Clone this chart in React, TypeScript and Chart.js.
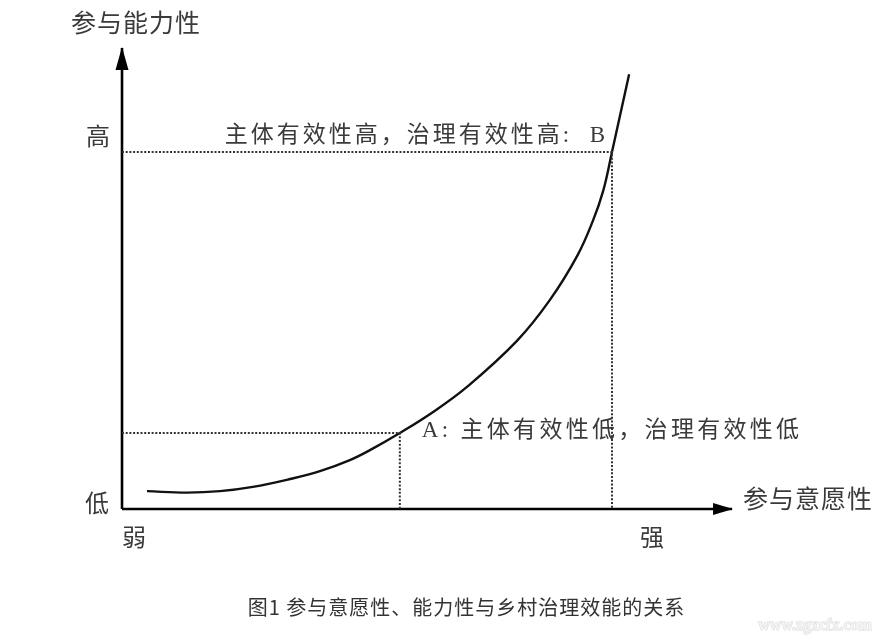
import React, { useEffect, useRef } from "react";
import { Chart, registerables } from "chart.js";

Chart.register(...registerables);

// ---- data (conceptual units: origin of the axes = 0,0; point B = 10,10) ----
const curveX = [0.51, 1.33, 2.0, 2.67, 3.43, 4.04, 4.65, 5.06, 5.67, 6.35, 7.04, 8.06, 8.73, 9.29, 9.61, 9.82, 10.0, 10.35];
const curveY = [0.5, 0.46, 0.5, 0.62, 0.84, 1.06, 1.37, 1.65, 2.13, 2.72, 3.42, 4.71, 5.85, 7.09, 8.07, 8.91, 10.0, 12.18];
const pointA = { x: 5.67, y: 2.13 };
const pointB = { x: 10.0, y: 10.0 };
const xAxisEnd = 12.45;
const yAxisEnd = 12.91;
const xRange = [-2.49, 15.735];
const yRange = [-3.557, 14.258];

const yAxisTitle = "参与能力性";
const xAxisTitle = "参与意愿性";
const yTickLabels = ["低", "高"];
const xTickLabels = ["弱", "强"];
const labelA = "A: 主体有效性低，治理有效性低";
const labelB = "主体有效性高，治理有效性高:  B";
const caption = "图1 参与意愿性、能力性与乡村治理效能的关系";
const watermark = "www.zgxcfx.com";

const SERIF = '"Liberation Serif", "Noto Sans CJK SC"';
const SANS = '"Noto Sans CJK SC", "Noto Sans", sans-serif';

const annotate = {
  id: "annotate",
  afterDatasetsDraw(chart: any) {
    const ctx = chart.ctx as CanvasRenderingContext2D;
    const xs = chart.scales.x;
    const ys = chart.scales.y;
    const ox = xs.getPixelForValue(0);
    const oy = ys.getPixelForValue(0);
    const xTip = xs.getPixelForValue(xAxisEnd);
    const yTip = ys.getPixelForValue(yAxisEnd);
    const ax = xs.getPixelForValue(pointA.x);
    const ay = ys.getPixelForValue(pointA.y);
    const bx = xs.getPixelForValue(pointB.x);
    const by = ys.getPixelForValue(pointB.y);
    ctx.save();
    // arrowheads
    ctx.fillStyle = "#000";
    ctx.beginPath();
    ctx.moveTo(ox, yTip - 1);
    ctx.lineTo(ox - 6.5, yTip + 22);
    ctx.lineTo(ox + 6.5, yTip + 22);
    ctx.closePath();
    ctx.fill();
    ctx.beginPath();
    ctx.moveTo(xTip + 1, oy);
    ctx.lineTo(xTip - 19, oy - 6);
    ctx.lineTo(xTip - 19, oy + 6);
    ctx.closePath();
    ctx.fill();

    const setLS = (v: string) => {
      (ctx as any).letterSpacing = v;
    };
    ctx.textBaseline = "middle";
    ctx.fillStyle = "#3a3a3a";

    // axis titles
    setLS("1px");
    ctx.font = `25px ${SANS}`;
    ctx.textAlign = "center";
    ctx.fillText(yAxisTitle, ox + 14, yTip - 26);
    ctx.textAlign = "left";
    ctx.fillText(xAxisTitle, xTip + 11, oy - 11);

    // tick-like labels
    setLS("0px");
    ctx.font = `24px ${SANS}`;
    ctx.textAlign = "center";
    ctx.fillText(yTickLabels[0], ox - 25, oy - 6);
    ctx.fillText(yTickLabels[1], ox - 24, by - 16);
    ctx.fillText(xTickLabels[0], ox + 12, oy + 28);
    ctx.fillText(xTickLabels[1], bx + 40, oy + 28);

    // point labels
    ctx.font = `23px ${SERIF}`;
    setLS("3px");
    ctx.textAlign = "right";
    ctx.fillText(labelB, bx - 4, by - 16);
    setLS("3.3px");
    ctx.textAlign = "left";
    ctx.fillText(labelA, ax + 22, ay - 2);

    // caption
    setLS("1px");
    ctx.font = `20px ${SANS}`;
    ctx.fillStyle = "#333";
    ctx.textAlign = "center";
    ctx.fillText(caption, chart.width / 2 + 20, 607);

    // watermark
    setLS("0px");
    ctx.font = `bold 16px "Liberation Serif"`;
    ctx.textAlign = "center";
    ctx.fillStyle = "#f3f3f3";
    ctx.strokeStyle = "#dcdcdc";
    ctx.lineWidth = 1;
    ctx.strokeText(watermark, chart.width - 78, 626);
    ctx.fillText(watermark, chart.width - 78, 626);
    ctx.restore();
  },
};

export default function App() {
  const ref = useRef<HTMLCanvasElement | null>(null);
  useEffect(() => {
    if (!ref.current) return;
    const dot = { borderColor: "#333", borderWidth: 2, borderDash: [2, 1.7], pointRadius: 0, showLine: true, fill: false, tension: 0 };
    const chart = new Chart(ref.current, {
      type: "scatter",
      data: {
        datasets: [
          { ...dot, data: [{ x: 0, y: pointA.y }, { x: pointA.x, y: pointA.y }, { x: pointA.x, y: 0 }] },
          { ...dot, data: [{ x: 0, y: pointB.y }, { x: pointB.x, y: pointB.y }, { x: pointB.x, y: 0 }] },
          {
            data: curveX.map((x, i) => ({ x, y: curveY[i] })),
            showLine: true,
            borderColor: "#111",
            borderWidth: 2.4,
            pointRadius: 0,
            tension: 0.4,
            fill: false,
          },
          { data: [{ x: 0, y: 0 }, { x: xAxisEnd, y: 0 }], showLine: true, borderColor: "#000", borderWidth: 2.6, pointRadius: 0 },
          { data: [{ x: 0, y: 0 }, { x: 0, y: yAxisEnd }], showLine: true, borderColor: "#000", borderWidth: 2.6, pointRadius: 0 },
        ] as any,
      },
      options: {
        animation: false,
        responsive: false,
        devicePixelRatio: 1,
        layout: { padding: 0 },
        clip: false as any,
        plugins: { legend: { display: false }, tooltip: { enabled: false }, title: { display: false } },
        scales: {
          x: { type: "linear", min: xRange[0], max: xRange[1], display: false },
          y: { type: "linear", min: yRange[0], max: yRange[1], display: false },
        },
      },
      plugins: [annotate],
    });
    return () => chart.destroy();
  }, []);
  return (
    <div style={{ position: "absolute", left: 0, top: 0, width: 893, height: 636, background: "#fff" }}>
      <canvas ref={ref} width={893} height={636} style={{ display: "block" }} />
    </div>
  );
}
